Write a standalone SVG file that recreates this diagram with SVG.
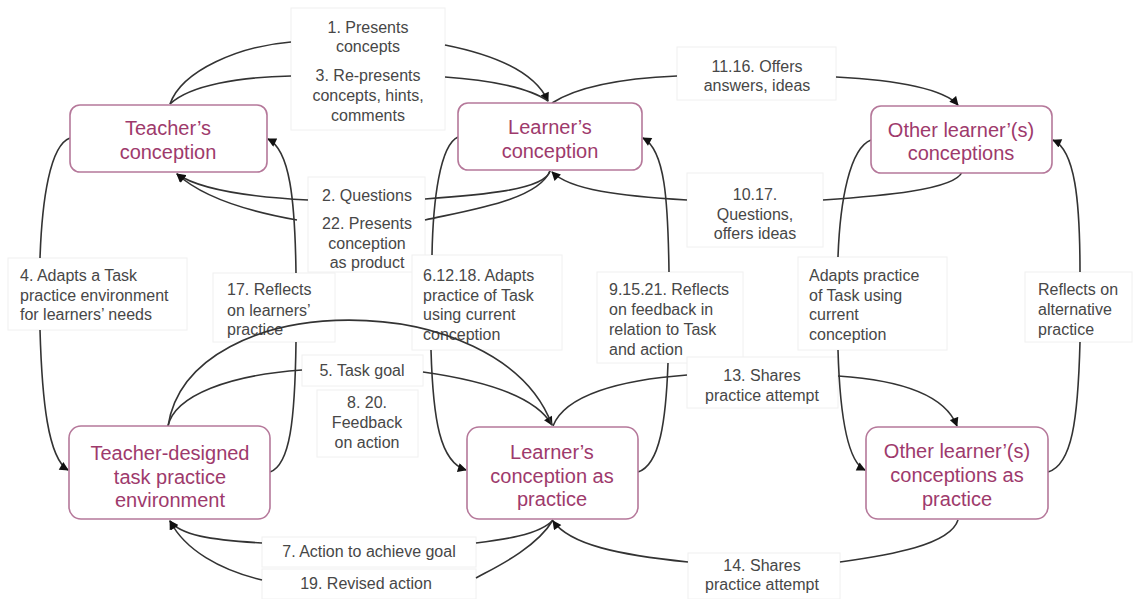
<svg xmlns="http://www.w3.org/2000/svg" width="1133" height="599" viewBox="0 0 1133 599">
<defs>
<style>
.node rect{fill:#fff;stroke:#b5789a;stroke-width:1.6}
.node text{font-family:"Liberation Sans",Arial,sans-serif;font-size:20px;fill:#9e3a6c;text-anchor:middle}
.lbl rect{fill:#fff;stroke:#f0f0f0;stroke-width:1}
.lbl text{font-family:"Liberation Sans",Arial,sans-serif;font-size:16px;fill:#474747}
.c{text-anchor:middle}
#connectors path{fill:none;stroke:#333;stroke-width:1.6}
.a{marker-end:url(#arr)}
</style>
<marker id="arr" viewBox="0 0 10 10" refX="9" refY="5" markerWidth="10" markerHeight="9" markerUnits="userSpaceOnUse" orient="auto">
<path d="M0,0 L10,5 L0,10 z" fill="#111"/>
</marker>
</defs>
<rect width="1133" height="599" fill="#fff"/>

<g id="labels">
<g id="lbl-1" class="lbl"><rect x="291" y="8" width="154" height="122"/><text class="c" x="368" y="33">1. Presents</text><text class="c" x="368" y="52">concepts</text></g>
<g id="lbl-3" class="lbl"><text class="c" x="368" y="81">3. Re-presents</text><text class="c" x="368" y="101">concepts, hints,</text><text class="c" x="368" y="121">comments</text></g>
<g id="lbl-2" class="lbl"><rect x="308" y="177" width="117" height="95"/><text class="c" x="367" y="201">2. Questions</text></g>
<g id="lbl-22" class="lbl"><text class="c" x="367" y="229">22. Presents</text><text class="c" x="367" y="249">conception</text><text class="c" x="367" y="268">as product</text></g>
<g id="lbl-11" class="lbl"><rect x="677" y="47" width="159" height="53"/><text class="c" x="757" y="72">11.16. Offers</text><text class="c" x="757" y="91">answers, ideas</text></g>
<g id="lbl-10" class="lbl"><rect x="687" y="173" width="136" height="74"/><text class="c" x="755" y="200">10.17.</text><text class="c" x="755" y="220">Questions,</text><text class="c" x="755" y="239">offers ideas</text></g>
<g id="lbl-4" class="lbl"><rect x="8" y="258" width="179" height="72"/><text x="20" y="281">4. Adapts a Task</text><text x="20" y="301">practice environment</text><text x="20" y="320">for learners’ needs</text></g>
<g id="lbl-17" class="lbl"><rect x="213" y="273" width="122" height="69"/><text x="227" y="295">17. Reflects</text><text x="227" y="316">on learners’</text><text x="227" y="335">practice</text></g>
<g id="lbl-6" class="lbl"><rect x="412" y="255" width="150" height="95"/><text x="423" y="281">6.12.18. Adapts</text><text x="423" y="301">practice of Task</text><text x="423" y="320">using current</text><text x="423" y="340">conception</text></g>
<g id="lbl-9" class="lbl"><rect x="597" y="272" width="146" height="91"/><text x="609" y="295">9.15.21. Reflects</text><text x="609" y="315">on feedback in</text><text x="609" y="335">relation to Task</text><text x="609" y="355">and action</text></g>
<g id="lbl-ap" class="lbl"><rect x="798" y="257" width="149" height="93"/><text x="809" y="281">Adapts practice</text><text x="809" y="301">of Task using</text><text x="809" y="320">current</text><text x="809" y="340">conception</text></g>
<g id="lbl-ra" class="lbl"><rect x="1025" y="272" width="107" height="70"/><text x="1038" y="295">Reflects on</text><text x="1038" y="315">alternative</text><text x="1038" y="335">practice</text></g>
<g id="lbl-5" class="lbl"><rect x="302" y="355" width="121" height="31"/><text class="c" x="362" y="376">5. Task goal</text></g>
<g id="lbl-8" class="lbl"><rect x="317" y="390" width="101" height="67"/><text class="c" x="367" y="408">8. 20.</text><text class="c" x="367" y="428">Feedback</text><text class="c" x="367" y="448">on action</text></g>
<g id="lbl-13" class="lbl"><rect x="687" y="357" width="151" height="51"/><text class="c" x="762" y="381">13. Shares</text><text class="c" x="762" y="401">practice attempt</text></g>
<g id="lbl-7" class="lbl"><rect x="262" y="537" width="214" height="30"/><text class="c" x="369" y="557">7. Action to achieve goal</text></g>
<g id="lbl-19" class="lbl"><rect x="262" y="569" width="214" height="30"/><text class="c" x="366" y="589">19. Revised action</text></g>
<g id="lbl-14" class="lbl"><rect x="688" y="553" width="152" height="46"/><text class="c" x="762" y="571">14. Shares</text><text class="c" x="762" y="590">practice attempt</text></g>
</g>

<g id="connectors">
<path d="M170,104 C182,70 240,46 291,42"/>
<path class="a" d="M445,45 C495,55 535,72 548,101"/>
<path d="M170,104 C190,85 240,77 291,76"/>
<path d="M445,77 C490,80 530,88 548,101"/>
<path d="M552,103 C580,85 630,78 677,76"/>
<path class="a" d="M836,77 C900,80 945,90 958,105"/>
<path d="M550,171 C545,190 480,195 425,199"/>
<path class="a" d="M308,200 C250,197 200,190 177,174"/>
<path d="M550,171 C538,200 470,210 425,220"/>
<path class="a" d="M297,220 C240,210 200,195 177,174"/>
<path d="M962,172 C955,190 880,196 823,200"/>
<path class="a" d="M687,200 C620,196 570,190 552,172"/>
<path d="M70,138 C50,145 42,200 40,258"/>
<path class="a" d="M40,330 C42,400 48,458 68,470"/>
<path d="M270,472 C290,465 295,420 296,342"/>
<path class="a" d="M296,273 C295,200 290,150 268,139"/>
<path d="M458,137 C440,145 433,200 432,255"/>
<path class="a" d="M431,350 C433,420 440,462 466,470"/>
<path d="M638,472 C660,465 666,420 668,363"/>
<path class="a" d="M669,272 C668,200 665,150 643,138"/>
<path d="M871,140 C850,148 840,200 838,257"/>
<path class="a" d="M838,350 C840,420 848,462 865,470"/>
<path d="M1048,472 C1072,465 1078,420 1080,342"/>
<path class="a" d="M1080,272 C1080,200 1075,150 1053,140"/>
<path d="M168,426 C175,395 230,375 302,370"/>
<path class="a" d="M423,372 C480,380 535,395 552,425"/>
<path d="M168,426 C190,285 500,285 552,425"/>
<path d="M553,426 C565,395 620,380 687,375"/>
<path class="a" d="M838,376 C900,380 945,395 957,426"/>
<path d="M553,520 C540,535 500,540 476,543"/>
<path class="a" d="M262,543 C210,540 180,535 170,521"/>
<path d="M553,520 C535,550 490,570 476,578"/>
<path class="a" d="M262,580 C220,570 185,550 170,521"/>
<path d="M958,520 C950,545 890,555 840,562"/>
<path class="a" d="M688,562 C620,555 570,545 553,521"/>
</g>

<g id="n-teacher" class="node"><rect x="70" y="105" width="197" height="67" rx="10"/><text x="168" y="135">Teacher’s</text><text x="168" y="159">conception</text></g>
<g id="n-learner" class="node"><rect x="458" y="103" width="184" height="67" rx="10"/><text x="550" y="134">Learner’s</text><text x="550" y="158">conception</text></g>
<g id="n-other" class="node"><rect x="871" y="106" width="181" height="67" rx="10"/><text x="961" y="137">Other learner’(s)</text><text x="961" y="160">conceptions</text></g>
<g id="n-env" class="node"><rect x="69" y="426" width="201" height="93" rx="12"/><text x="170" y="460">Teacher-designed</text><text x="170" y="484">task practice</text><text x="170" y="507">environment</text></g>
<g id="n-lpractice" class="node"><rect x="467" y="427" width="171" height="92" rx="12"/><text x="552" y="459">Learner’s</text><text x="552" y="483">conception as</text><text x="552" y="506">practice</text></g>
<g id="n-opractice" class="node"><rect x="866" y="427" width="182" height="92" rx="12"/><text x="957" y="458">Other learner’(s)</text><text x="957" y="482">conceptions as</text><text x="957" y="506">practice</text></g>
</svg>
